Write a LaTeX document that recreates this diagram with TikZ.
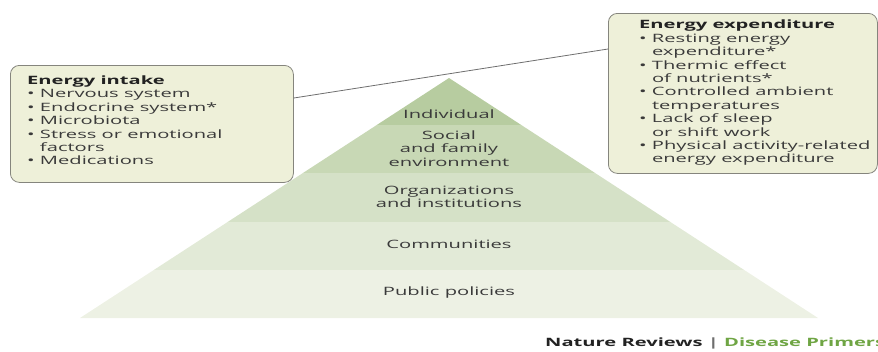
\documentclass[tikz,border=0pt]{standalone}
\usepackage{fontspec}
\setmainfont{Open Sans}[FakeStretch=1.75]
\definecolor{boxfill}{HTML}{EEF0D9}
\definecolor{boxline}{HTML}{85857D}
\definecolor{ink}{HTML}{3A3A3A}
\definecolor{head}{HTML}{222222}
\definecolor{layA}{HTML}{B7CCA0}
\definecolor{layB}{HTML}{C8D8B5}
\definecolor{layC}{HTML}{D5E1C7}
\definecolor{layD}{HTML}{E2EAD7}
\definecolor{layE}{HTML}{EDF1E4}
\definecolor{linkgray}{HTML}{6E6E6E}
\definecolor{primer}{HTML}{6FA544}
\newcommand{\ind}{\phantom{•\ }}
\begin{document}
\begin{tikzpicture}[x=1pt,y=-1pt,
  infobox/.style={draw=boxline, fill=boxfill, rounded corners=9pt, line width=0.8pt, inner sep=0pt, anchor=north west},
  listtext/.style={align=left, inner sep=0pt, anchor=north west, text=ink, font=\fontsize{11.5}{13.4}\selectfont},
  layertext/.style={align=center, inner sep=0pt, text=ink, font=\fontsize{11.5}{13.5}\selectfont},
  link/.style={draw=linkgray, line width=0.8pt}]
\useasboundingbox (0,0) rectangle (878,351);

% pyramid of nested levels
\coordinate (apex) at (449,78);
\coordinate (baseL) at (80,318);
\coordinate (baseR) at (818,318);
\begin{scope}
  \clip (apex) -- (baseR) -- (baseL) -- cycle;
  \fill[layA] (80,70) rectangle (818,125);
  \fill[layB] (80,125) rectangle (818,173);
  \fill[layC] (80,173) rectangle (818,222);
  \fill[layD] (80,222) rectangle (818,270);
  \fill[layE] (80,270) rectangle (818,319);
\end{scope}
\node[layertext] (individual) at (449,114) {Individual};
\node[layertext] (social) at (449,148.5) {Social\\and family\\environment};
\node[layertext] (organizations) at (449,197) {Organizations\\and institutions};
\node[layertext] (communities) at (449,244) {Communities};
\node[layertext] (policies) at (449,293) {Public policies};

% energy intake box
\node[infobox, minimum width=283pt, minimum height=117pt] (intake) at (10,65) {};
\node[listtext] (intakelist) at (27,75.5) {\textcolor{head}{\bfseries Energy intake}\\
• Nervous system\\
• Endocrine system*\\
• Microbiota\\
• Stress or emotional\\
\ind factors\\
• Medications};

% energy expenditure box
\node[infobox, minimum width=269pt, minimum height=160pt] (expenditure) at (608,13) {};
\node[listtext] (expenditurelist) at (639,20) {\textcolor{head}{\bfseries Energy expenditure}\\
• Resting energy\\
\ind expenditure*\\
• Thermic effect\\
\ind of nutrients*\\
• Controlled ambient\\
\ind temperatures\\
• Lack of sleep\\
\ind or shift work\\
• Physical activity-related\\
\ind energy expenditure};

% connector between the two boxes
\draw[link] ([yshift=-33pt]intake.north east) -- ([yshift=-36pt]expenditure.north west);

% journal credit
\node[anchor=west, inner sep=0pt, text=head, font=\bfseries\fontsize{11.5}{14}\selectfont] (credit) at (545,343)
  {Nature Reviews \textcolor{linkgray}{|} \textcolor{primer}{Disease Primers}};
\end{tikzpicture}
\end{document}
